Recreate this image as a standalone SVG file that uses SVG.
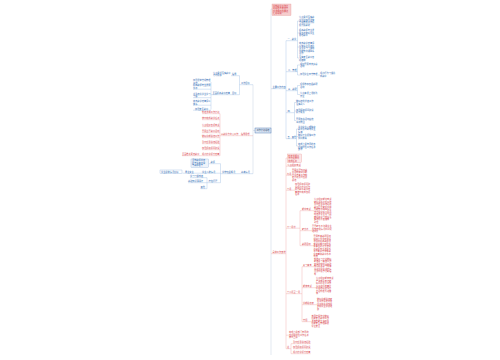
<svg xmlns="http://www.w3.org/2000/svg" width="500" height="360" viewBox="0 0 500 360">
<style>
text{font-family:"Noto Sans CJK SC","Noto Sans",sans-serif;font-size:2.2px}
.b{fill:#2f6db5}.r{fill:#d8434b}.k{fill:#24436e}
.bl{stroke:#9dbde3;stroke-width:0.4;fill:none}
.rl{stroke:#f0a2a2;stroke-width:0.4;fill:none}
.gl{stroke:#b8c7dc;stroke-width:0.4;fill:none}
</style>
<rect width="500" height="360" fill="#ffffff"/>
<g id="connectors">
<path class="gl" d="M271,9 V355 M271,9 H272 M253,130.5 H255 M253,84.7 V173.7"/>
<path class="bl" d="M271,88.7 H286 M286,40.7 V138.7 M286,40.7 H297.5 M297.5,21 V58 M297.5,21 H299 M297.5,33 H299 M297.5,47 H299 M297.5,58 H299
M286,71.7 H297.5 M297.5,65 V75 M297.5,65 H300 M297.5,75 H300 M318,75 H320
M286,90.7 H297.5 M297.5,85.5 V94.5 M297.5,85.5 H300 M297.5,94.5 H300
M286,112.7 H294.5 M294.5,102.5 V120.5 M294.5,102.5 H296 M294.5,111 H296 M294.5,120.5 H296
M286,138.7 H296.5 M296.5,129 V146 M296.5,129 H298 M296.5,136.5 H298 M296.5,146 H298
M239.5,84.7 H253 M239.5,75.7 V94.7 M231,75.7 H239.5 M211,94.7 H239.5 M211,82 V109.5
M193,84.2 H211 M193,89.2 H211 M193,97.7 H211 M193,105.2 H211 M193,110.2 H211
M220.5,173.7 H253 M220.5,163.7 V182.7 M208.5,163.7 H220.5 M182.5,173.2 H220.5 M207,182.7 H220.5 M207,177.7 V188.7 M190,177.7 H207 M188,182.7 H207 M200.5,188.7 H207"/>
<path class="rl" d="M271,253.7 H286 M286,158 V348.7 M286,158 H287.5 M286,166.2 H301 M286,175.2 H292 M286,190.2 H295
M286,228.2 H300 M300,210.7 V245.7 M300,210.7 H314 M300,230.7 H312 M300,245.7 H313.5
M286,293.7 H302 M302,266.7 V321.7 M302,266.7 H314 M302,287.7 H316 M302,304.7 H317 M302,321.7 H311.5
M286,335.2 H289 M286,348.7 H291 M291,343.7 V353.7 M291,343.7 H293 M291,353.7 H293
M293,343.7 H310.6 M293,348.7 H310.6 M293,353.7 H310.6
M220,135.7 H253 M220,113.7 V155.7 M182,155.7 H220 M202,113.7 H220 M202,119.7 H220 M202,126.7 H220 M202,132.7 H220 M202,137.7 H220 M202,143.7 H220 M202,149.7 H220"/>
</g>
<g id="title"><rect x="272" y="4" width="19" height="11.5" fill="#f6cdcd" stroke="#e48f8f" stroke-width="0.3"/>
<text class="r"><tspan x="273" y="6.8">学校教学工作计</tspan><tspan x="273" y="9.3">划总结与安排方</tspan><tspan x="273" y="11.8">案详细内容要点</tspan><tspan x="273" y="14.3">汇总说明</tspan></text></g>
<g id="root"><rect x="255" y="128" width="16" height="5" fill="#dce6f4" stroke="#3a6aa8" stroke-width="0.4"/><text class="k" x="256.4" y="131.3">工作计划总结</text></g>
<g id="n-right-blue"><text class="b" x="272.5" y="88">主要工作内容</text></g>
<g id="n-b1"><text class="b" x="287.5" y="40">一、教学</text>
<text class="b"><tspan x="299" y="18">认真贯彻落实教</tspan><tspan x="299" y="20.5">学计划加强课堂</tspan><tspan x="299" y="23">常规管理工作积</tspan><tspan x="299" y="25.5">极开展教研</tspan></text>
<text class="b"><tspan x="299" y="31">提高教师专业发</tspan><tspan x="299" y="33.5">展水平做好学生</tspan><tspan x="299" y="36">思想教育</tspan></text>
<text class="b"><tspan x="299" y="44">完善教学质量评</tspan><tspan x="299" y="46.5">价体系注重培养</tspan><tspan x="299" y="49">学生学习习惯加</tspan><tspan x="299" y="51.5">强家校沟通联系</tspan><tspan x="299" y="54">合作</tspan></text>
<text class="b"><tspan x="299" y="58">落实安全教育各</tspan><tspan x="299" y="60.5">项措施</tspan></text></g>
<g id="n-b2"><text class="b" x="288" y="71">二、管理</text>
<text class="b"><tspan x="300" y="64.5">组织开展丰富多彩</tspan><tspan x="300" y="67">活动</tspan></text>
<text class="b"><tspan x="300" y="74.5">加强学生日常管理</tspan></text>
<text class="b"><tspan x="320" y="74">规范行为习惯养</tspan><tspan x="320" y="76.5">成教育</tspan></text></g>
<g id="n-b3"><text class="b" x="288" y="90">三、教研</text>
<text class="b"><tspan x="300" y="85">积极参加各级教研</tspan><tspan x="300" y="87.5">活动</tspan></text>
<text class="b"><tspan x="300" y="94">认真备课上课批改</tspan><tspan x="300" y="96.5">作业</tspan></text></g>
<g id="n-b4"><text class="b" x="287.5" y="112">四、</text>
<text class="b"><tspan x="296" y="102">做好培优补差工作</tspan><tspan x="296" y="104.5">落实到人</tspan></text>
<text class="b"><tspan x="296" y="110.5">加强师德师风建设</tspan><tspan x="296" y="113">提升素养</tspan></text>
<text class="b"><tspan x="296" y="120">开展读书活动营造</tspan><tspan x="296" y="122.5">书香校园</tspan></text></g>
<g id="n-b5"><text class="b" x="287.5" y="138">五、其他</text>
<text class="b"><tspan x="298" y="127.5">关注学生心理健康</tspan><tspan x="298" y="130">教育及时疏导学生</tspan><tspan x="298" y="132.5">情绪</tspan></text>
<text class="b"><tspan x="298" y="136">做好卫生保健工作</tspan><tspan x="298" y="138.5">预防疾病</tspan></text>
<text class="b"><tspan x="298" y="145">完成上级布置的各</tspan><tspan x="298" y="147.5">项临时性工作任务</tspan><tspan x="298" y="150">安排</tspan></text></g>
<g id="n-right-red"><text class="r" x="272.5" y="253">具体工作安排</text></g>
<g id="n-r1"><rect x="287.5" y="154" width="14" height="8.5" fill="#fde8e8" stroke="#e58d8d" stroke-width="0.3"/>
<text class="r"><tspan x="288.2" y="156.6">制定详细工</tspan><tspan x="288.2" y="159.1">作计划按时</tspan><tspan x="288.2" y="161.6">完成任务</tspan></text></g>
<g id="n-r2"><text class="r" x="287.5" y="165.5">认真组织考试</text></g>
<g id="n-r3"><text class="r" x="287" y="174.5">九月</text>
<text class="r"><tspan x="292" y="170.5">开展主题班会教</tspan><tspan x="292" y="173">育活动做好学期</tspan><tspan x="292" y="175.5">开学准备工作制</tspan><tspan x="292" y="178">定计划及时反思</tspan><tspan x="292" y="180.5">总结</tspan></text></g>
<g id="n-r4"><text class="r" x="287" y="189.5">十月</text>
<text class="r"><tspan x="295" y="185">加强师德师风建</tspan><tspan x="295" y="187.5">设规范办学行为</tspan><tspan x="295" y="190">提升教育教学质</tspan><tspan x="295" y="192.5">量按时完成各项</tspan><tspan x="295" y="195">任务</tspan></text></g>
<g id="n-r5"><text class="r" x="287" y="227.5">十一月份</text>
<text class="r" x="302" y="210">期中考试</text>
<text class="r"><tspan x="314" y="200">认真组织期中考试</tspan><tspan x="314" y="202.5">做好试卷分析工作</tspan><tspan x="314" y="205">及时反思总结经验</tspan><tspan x="314" y="207.5">教训召开家长会加</tspan><tspan x="314" y="210">强家校沟通联系合</tspan><tspan x="314" y="212.5">作开展学科竞赛活</tspan><tspan x="314" y="215">动激发学生学习兴</tspan><tspan x="314" y="217.5">趣提高学习成绩落</tspan><tspan x="314" y="220">实培优补差措施</tspan><tspan x="314" y="222.5">到位</tspan></text>
<text class="r" x="302" y="230">家长会</text>
<text class="r"><tspan x="312" y="227">召开家长会沟通学生</tspan><tspan x="312" y="229.5">在校表现情况共同促</tspan><tspan x="312" y="232">进成长</tspan></text>
<text class="r" x="302" y="245">教研活动</text>
<text class="r"><tspan x="313.5" y="237">开展校本教研活动</tspan><tspan x="313.5" y="239.5">组织公开课听课评</tspan><tspan x="313.5" y="242">课活动提高教师课</tspan><tspan x="313.5" y="244.5">堂教学能力加强集</tspan><tspan x="313.5" y="247">体备课研讨交流促</tspan><tspan x="313.5" y="249.5">进教师专业发展水</tspan><tspan x="313.5" y="252">平不断提升整体教</tspan><tspan x="313.5" y="254.5">学质量和教育水平</tspan><tspan x="313.5" y="257">效果</tspan></text></g>
<g id="n-r6"><text class="r" x="287" y="293">十二月至一月</text>
<text class="r" x="303" y="266">复习备考</text>
<text class="r"><tspan x="314" y="259.5">制定复习计划做好</tspan><tspan x="314" y="262">期末复习备考工作</tspan><tspan x="314" y="264.5">查漏补缺巩固基础</tspan><tspan x="314" y="267">知识提高复习效率</tspan><tspan x="314" y="269.5">关注学困生进步情</tspan><tspan x="314" y="272">况及时给予帮助指</tspan><tspan x="314" y="274.5">导</tspan></text>
<text class="r" x="303" y="287">期末考试</text>
<text class="r"><tspan x="316" y="279">认真组织期末考试</tspan><tspan x="316" y="281.5">严肃考风考纪做</tspan><tspan x="316" y="284">好阅卷登分工作</tspan><tspan x="316" y="286.5">认真进行质量分</tspan><tspan x="316" y="289">析总结经验找出</tspan><tspan x="316" y="291.5">不足制定改进措</tspan><tspan x="316" y="294">施</tspan></text>
<text class="r" x="303" y="304">学期总结表</text>
<text class="r"><tspan x="317" y="299.5">做好学期总结表</tspan><tspan x="317" y="302">彰工作评选优秀</tspan><tspan x="317" y="304.5">学生和先进班级</tspan><tspan x="317" y="307">激励学生积极进</tspan><tspan x="317" y="309.5">取</tspan></text>
<text class="r" x="303" y="321">寒假</text>
<text class="r"><tspan x="311.5" y="316.5">布置寒假作业做好</tspan><tspan x="311.5" y="319">假期安全教育工作</tspan><tspan x="311.5" y="321.5">发放告家长书加强</tspan><tspan x="311.5" y="324">假期安全管理确保</tspan><tspan x="311.5" y="326.5">学生安全</tspan></text></g>
<g id="n-r7"><text class="r"><tspan x="289" y="333">完成上级部门布置的</tspan><tspan x="289" y="335.5">各项临时性工作任务</tspan><tspan x="289" y="338">按时上报</tspan></text></g>
<g id="n-r8"><text class="r" x="287" y="348">注</text>
<text class="r" x="293" y="343">及时反思总结经验</text><text class="r" x="293" y="348">加强师德师风建设</text><text class="r" x="293" y="353">规范办学提升质量</text></g>
<g id="n-left-1"><text class="b" x="241" y="84">工作目标</text>
<text class="b" x="232" y="75">指导</text>
<text class="b"><tspan x="213" y="73.5">认真贯彻落实教育</tspan><tspan x="213" y="76">方针政策</tspan></text>
<text class="b" x="232" y="94">目标</text>
<text class="b" x="212.5" y="94">全面提高教育质量</text>
<text class="b"><tspan x="193" y="81">加强课堂常规管理</tspan><tspan x="193" y="83.5">工作</tspan></text>
<text class="b"><tspan x="193" y="86">提高教师专业发展</tspan><tspan x="193" y="88.5">水平</tspan></text>
<text class="b"><tspan x="193" y="94.5">注重培养学生学习</tspan><tspan x="193" y="97">习惯</tspan></text>
<text class="b"><tspan x="193" y="102">完善教学质量评价</tspan><tspan x="193" y="104.5">体系</tspan></text>
<text class="b" x="195" y="109.5">加强安全教育</text></g>
<g id="n-left-2"><text class="r" x="241" y="135">指导思想</text>
<text class="r" x="221" y="135">以教学为中心工作</text>
<text class="r" x="202" y="113">制定详细工作计划</text>
<text class="r" x="202" y="119">按时完成教学任务</text>
<text class="r" x="202" y="126">认真组织各项考试</text>
<text class="r" x="202" y="132">开展主题教育活动</text>
<text class="r" x="202" y="137">做好学期总结工作</text>
<text class="r" x="202" y="143">及时反思总结经验</text>
<text class="r" x="202" y="149">加强师德师风建设</text>
<text class="r" x="202" y="155">规范办学提升质量</text>
<text class="r" x="182" y="155">全面推进素质教育</text></g>
<g id="n-left-3"><text class="b" x="241" y="173">基本情况</text>
<text class="b" x="222" y="173">学校班级概况</text>
<text class="b" x="210.5" y="163">教师</text>
<rect x="191" y="159" width="17.5" height="8.4" fill="#eef4fb" stroke="#7fa6d6" stroke-width="0.3"/>
<text class="b"><tspan x="192" y="161.4">全校教师共有</tspan><tspan x="192" y="163.9">若干名其中骨</tspan><tspan x="192" y="166.4">干教师若干</tspan></text>
<text class="b" x="202" y="172.5">学生人数情况</text>
<text class="b" x="185" y="172.5">男生女生</text>
<rect x="160" y="170" width="22" height="3.6" fill="none" stroke="#7fa6d6" stroke-width="0.3"/>
<text class="b" x="161" y="172.5">学生总体情况良好</text>
<text class="b" x="208.5" y="182">存在问题</text>
<text class="b" x="190" y="177">学习习惯较差</text>
<text class="b" x="188" y="182">基础知识薄弱不</text>
<text class="b" x="200.5" y="188">其他</text></g>
</svg>
